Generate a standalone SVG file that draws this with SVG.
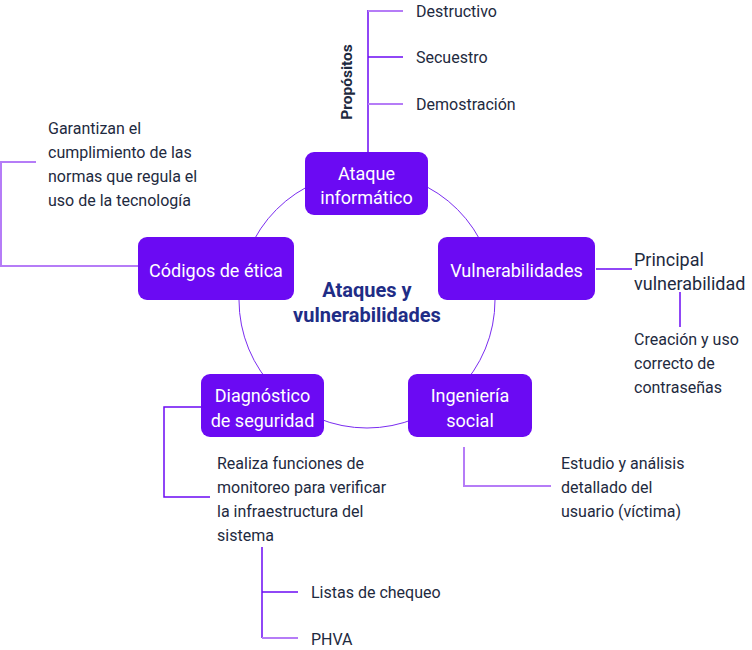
<svg xmlns="http://www.w3.org/2000/svg" width="752" height="650" viewBox="0 0 752 650">
<style>
.box{fill:#6b0af3}
.bt{font-family:Roboto,"Liberation Sans",sans-serif;font-size:18px;fill:#ffffff;text-anchor:middle}
.t{font-family:Roboto,"Liberation Sans",sans-serif;font-size:16px;fill:#1e2a40}
.dk{stroke:#6b0af3;stroke-width:1.5;fill:none}
.lt{stroke:#b57cf7;stroke-width:2;fill:none}
</style>
<rect width="752" height="650" fill="#ffffff"/>
<g id="connectors">
<circle cx="367" cy="300" r="128" fill="none" stroke="#7a2cf0" stroke-width="1"/>
<line class="dk" x1="368" y1="10" x2="368" y2="152"/>
<line class="lt" x1="368" y1="11" x2="403" y2="11"/>
<line class="dk" x1="368" y1="57" x2="403" y2="57"/>
<line class="lt" x1="368" y1="104" x2="403" y2="104"/>
<polyline class="lt" points="138,266 1,266 1,162 36,162"/>
<line class="dk" x1="596" y1="269" x2="632" y2="269"/>
<line class="dk" x1="680" y1="292" x2="680" y2="327"/>
<polyline class="dk" points="201,407 164,407 164,497 210,497"/>
<line class="dk" x1="262" y1="547" x2="262" y2="638"/>
<line class="dk" x1="262" y1="592" x2="298" y2="592"/>
<line class="lt" x1="262" y1="638" x2="298" y2="638"/>
<polyline class="lt" points="464,447 464,486 551,486"/>
</g>
<g id="center">
<text font-family="Roboto,'Liberation Sans',sans-serif" font-size="20" font-weight="bold" fill="#1f2d86" text-anchor="middle"><tspan x="367" y="297">Ataques y</tspan><tspan x="367" y="322">vulnerabilidades</tspan></text>
</g>
<g id="ataque">
<rect class="box" x="305" y="152" width="123" height="63" rx="9"/>
<text class="bt"><tspan x="366.5" y="180">Ataque</tspan><tspan x="366.5" y="204">informático</tspan></text>
</g>
<g id="propositos">
<text font-family="Roboto,'Liberation Sans',sans-serif" font-size="15.5" font-weight="bold" fill="#1e2a40" text-anchor="middle" transform="translate(352,82) rotate(-90)">Propósitos</text>
<text class="t" x="416" y="17">Destructivo</text>
<text class="t" x="416" y="63">Secuestro</text>
<text class="t" x="416" y="110">Demostración</text>
</g>
<g id="codigos">
<rect class="box" x="138" y="237" width="156" height="63" rx="9"/>
<text class="bt" x="216" y="277">Códigos de ética</text>
</g>
<g id="codigos-desc">
<text class="t"><tspan x="48" y="134">Garantizan el</tspan><tspan x="48" y="158">cumplimiento de las</tspan><tspan x="48" y="182">normas que regula el</tspan><tspan x="48" y="206">uso de la tecnología</tspan></text>
</g>
<g id="vulnerabilidades">
<rect class="box" x="438" y="237" width="157" height="63" rx="9"/>
<text class="bt" x="516.5" y="277">Vulnerabilidades</text>
</g>
<g id="principal">
<text class="t" style="font-size:18px"><tspan x="634" y="266">Principal</tspan><tspan x="634" y="290">vulnerabilidad</tspan></text>
</g>
<g id="contrasenas">
<text class="t"><tspan x="634" y="345">Creación y uso</tspan><tspan x="634" y="369">correcto de</tspan><tspan x="634" y="393">contraseñas</tspan></text>
</g>
<g id="diagnostico">
<rect class="box" x="201" y="374" width="123" height="63" rx="9"/>
<text class="bt"><tspan x="262.5" y="402">Diagnóstico</tspan><tspan x="262.5" y="427">de seguridad</tspan></text>
</g>
<g id="diag-desc">
<text class="t"><tspan x="217" y="469">Realiza funciones de</tspan><tspan x="217" y="493">monitoreo para verificar</tspan><tspan x="217" y="517">la infraestructura del</tspan><tspan x="217" y="541">sistema</tspan></text>
</g>
<g id="listas"><text class="t" x="311" y="598">Listas de chequeo</text></g>
<g id="phva"><text class="t" x="311" y="645">PHVA</text></g>
<g id="ingenieria">
<rect class="box" x="408" y="374" width="124" height="63" rx="9"/>
<text class="bt"><tspan x="470" y="402">Ingeniería</tspan><tspan x="470" y="427">social</tspan></text>
</g>
<g id="ing-desc">
<text class="t"><tspan x="561" y="469">Estudio y análisis</tspan><tspan x="561" y="493">detallado del</tspan><tspan x="561" y="517">usuario (víctima)</tspan></text>
</g>
</svg>
